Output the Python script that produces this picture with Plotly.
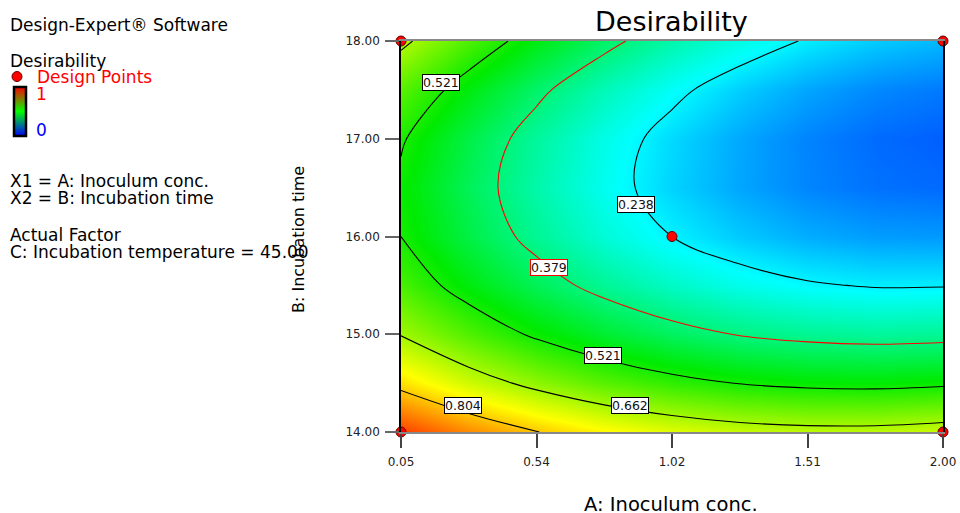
import plotly.graph_objects as go

# ---------------- data ----------------
# A: Inoculum conc. grid, B: Incubation time grid
x_grid = [0.05, 0.29375, 0.5375, 0.78125, 1.025, 1.26875, 1.5125, 1.75625, 2.0]
y_grid = [14.0, 14.5, 15.0, 15.5, 16.0, 16.5, 17.0, 17.5, 18.0]
# desirability estimated from the contour lines / colours (rows = y_grid)
desirability = [
    [0.939, 0.866, 0.806, 0.757, 0.721, 0.697, 0.686, 0.686, 0.699],
    [0.780, 0.703, 0.639, 0.586, 0.546, 0.518, 0.503, 0.499, 0.508],
    [0.658, 0.577, 0.508, 0.452, 0.407, 0.375, 0.356, 0.348, 0.353],
    [0.571, 0.486, 0.414, 0.353, 0.305, 0.269, 0.245, 0.233, 0.234],
    [0.521, 0.432, 0.355, 0.290, 0.238, 0.198, 0.170, 0.154, 0.151],
    [0.507, 0.414, 0.333, 0.264, 0.207, 0.163, 0.131, 0.112, 0.104],
    [0.529, 0.431, 0.346, 0.273, 0.213, 0.165, 0.129, 0.105, 0.093],
    [0.586, 0.485, 0.396, 0.319, 0.255, 0.202, 0.162, 0.134, 0.119],
    [0.680, 0.575, 0.482, 0.401, 0.332, 0.276, 0.232, 0.200, 0.180],
]
contour_levels = [0.238, 0.379, 0.521, 0.662, 0.804]
highlight_level = 0.379

label_text = ["0.521", "0.238", "0.379", "0.521", "0.662", "0.804"]
label_x = [0.195, 0.897, 0.581, 0.777, 0.873, 0.273]
label_y = [17.58, 16.33, 15.68, 14.78, 14.27, 14.27]

design_x = [0.05, 2.0, 1.025, 0.05, 2.0]
design_y = [18.0, 18.0, 16.0, 14.0, 14.0]

x_tickvals = [0.05, 0.5375, 1.025, 1.5125, 2.0]
x_ticktext = ["0.05", "0.54", "1.02", "1.51", "2.00"]
y_tickvals = [14, 15, 16, 17, 18]
y_ticktext = ["14.00", "15.00", "16.00", "17.00", "18.00"]

# ---------------- layout geometry (pixels) ----------------
W, H = 960, 513
PL, PR, PT, PB = 401, 943, 41, 432
FONT = "DejaVu Sans, Liberation Sans, Arial"


def px(xp):
    return (xp - PL) / (PR - PL)


def py(yp):
    return (PB - yp) / (PB - PT)


field_scale = [
    [0.0, "rgb(0,0,255)"],
    [0.25, "rgb(0,255,255)"],
    [0.5, "rgb(0,235,0)"],
    [0.75, "rgb(255,255,0)"],
    [1.0, "rgb(255,0,0)"],
]

fig = go.Figure()

fig.add_trace(go.Heatmap(
    x=x_grid, y=y_grid, z=desirability, zmin=0, zmax=1,
    zsmooth="best", colorscale=field_scale, showscale=False,
    hoverinfo="skip",
))

for lev in contour_levels:
    fig.add_trace(go.Contour(
        x=x_grid, y=y_grid, z=desirability,
        autocontour=False,
        contours=dict(start=lev, end=lev, size=0.1, coloring="none"),
        line=dict(color="red" if lev == highlight_level else "black",
                  width=1.1, smoothing=1.0),
        showscale=False, showlegend=False, hoverinfo="skip",
    ))

fig.add_trace(go.Scatter(
    x=design_x, y=design_y, mode="markers", name="Design Points",
    marker=dict(color="red", size=10, line=dict(color="#600000", width=1)),
    cliponaxis=False, showlegend=True, hoverinfo="skip",
))

# legend colour bar (blue -> green -> red)
fig.add_trace(go.Scatter(
    x=[None], y=[None], mode="markers", showlegend=False, hoverinfo="skip",
    marker=dict(
        color=[0.5], cmin=0, cmax=1,
        colorscale=[[0, "rgb(0,0,255)"], [0.5, "rgb(0,255,0)"], [1, "rgb(255,0,0)"]],
        showscale=True,
        colorbar=dict(
            x=px(14), xanchor="left", y=py(111), yanchor="middle",
            lenmode="pixels", len=49, thickness=12,
            outlinewidth=2.5, outlinecolor="black",
            xpad=0, ypad=0, showticklabels=False, ticks="",
        ),
    ),
))

annotations = []
for t, lx, ly in zip(label_text, label_x, label_y):
    annotations.append(dict(
        x=lx, y=ly, xref="x", yref="y", text=t, showarrow=False,
        font=dict(family=FONT, size=12.5, color="#111"),
        bgcolor="white", bordercolor="red" if t == "0.379" else "black",
        borderwidth=1, borderpad=0,
    ))


def txt(text, xp, yp, size=17, color="black", xanchor="left", angle=0):
    annotations.append(dict(
        x=px(xp), y=py(yp), xref="paper", yref="paper", text=text,
        showarrow=False, xanchor=xanchor, yanchor="middle", textangle=angle,
        font=dict(family=FONT, size=size, color=color),
    ))


txt("Design-Expert® Software", 8, 25)
txt("Desirability", 8, 61)
txt("1", 34, 94, color="red")
txt("0", 34, 130, color="blue")
txt("X1 = A: Inoculum conc.", 8, 181)
txt("X2 = B: Incubation time", 8, 198)
txt("Actual Factor", 8, 235)
txt("C: Incubation temperature = 45.00", 8, 252)
txt("Desirability", 671, 21, size=27, xanchor="center")
txt("A: Inoculum conc.", 671, 504, size=19.5, xanchor="center")
txt("B: Incubation time", 298, 240, size=16, xanchor="center", angle=-90)

fig.update_layout(
    width=W, height=H,
    margin=dict(l=PL, r=W - PR, t=PT, b=H - PB, pad=0, autoexpand=False),
    paper_bgcolor="white", plot_bgcolor="white",
    font=dict(family=FONT),
    showlegend=True,
    legend=dict(
        x=px(-3), y=py(59), xanchor="left", yanchor="top",
        font=dict(family=FONT, size=17, color="red"),
        bgcolor="rgba(0,0,0,0)", borderwidth=0, itemclick=False,
        tracegroupgap=0,
    ),
    xaxis=dict(
        range=[0.05, 2.0], tickvals=x_tickvals, ticktext=x_ticktext,
        ticks="outside", ticklen=14, tickcolor="#444", tickwidth=1.5,
        ticklabelstandoff=4,
        tickfont=dict(family=FONT, size=12, color="#222"),
        showline=True, linecolor="#888", linewidth=1.5, mirror=True,
        showgrid=False, zeroline=False, automargin=False,
    ),
    yaxis=dict(
        range=[14, 18], tickvals=y_tickvals, ticktext=y_ticktext,
        ticks="outside", ticklen=14, tickcolor="#666", tickwidth=1.5,
        ticklabelstandoff=3,
        tickfont=dict(family=FONT, size=12, color="#222"),
        showline=True, linecolor="black", linewidth=1.5, mirror=True,
        showgrid=False, zeroline=False, automargin=False,
    ),
    annotations=annotations,
)

fig.write_html(
    "out.html",
    config={"displayModeBar": False},
    post_script="document.body.style.margin='0px';document.body.style.overflow='hidden';",
)
